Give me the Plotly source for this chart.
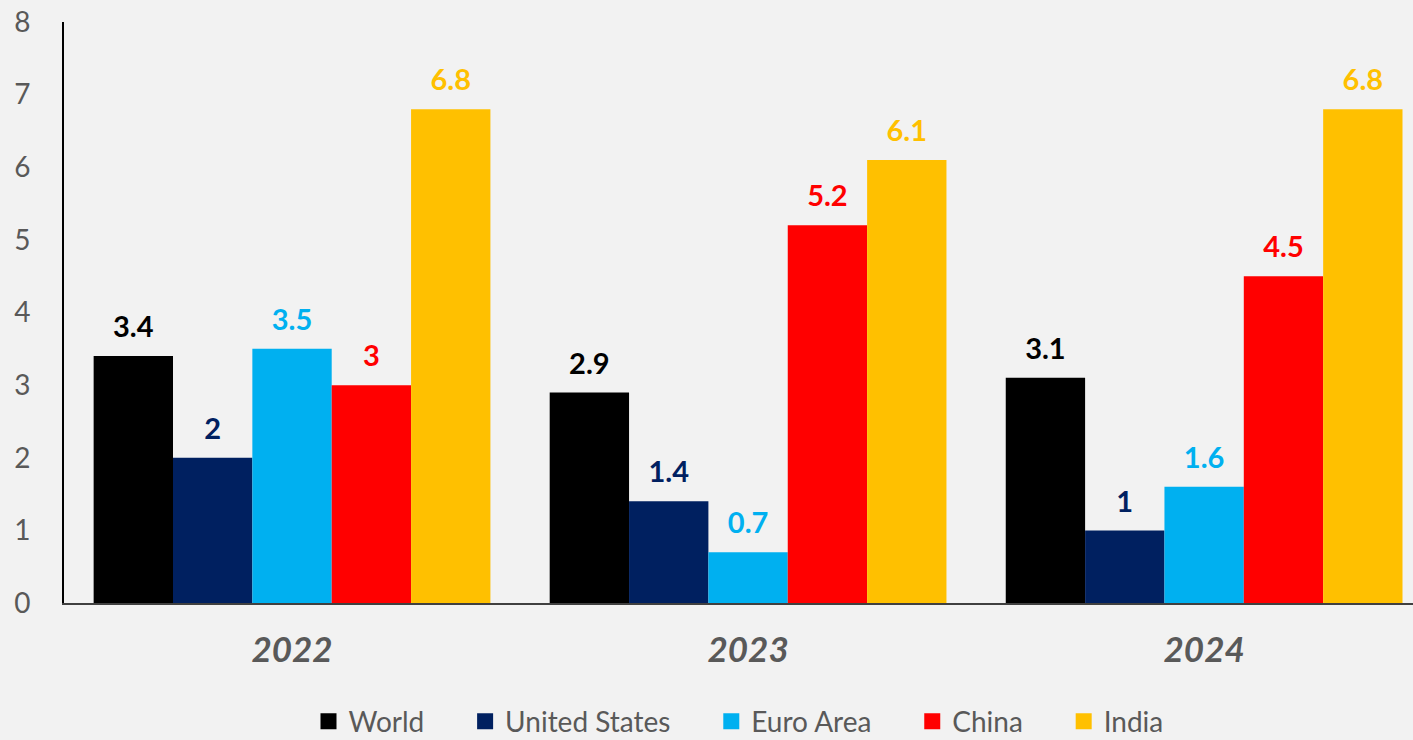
import plotly.graph_objects as go

# Growth forecasts by year and economy
years = ["2022", "2023", "2024"]
series_names = ["World", "United States", "Euro Area", "China", "India"]
world = [3.4, 2.9, 3.1]
united_states = [2, 1.4, 1]
euro_area = [3.5, 0.7, 1.6]
china = [3, 5.2, 4.5]
india = [6.8, 6.1, 6.8]
y_ticks = [0, 1, 2, 3, 4, 5, 6, 7, 8]

series_values = [world, united_states, euro_area, china, india]
colors = ["#000000", "#002060", "#00B0F0", "#FF0000", "#FFC000"]

FONT = "Lato"
GREY = "#595959"
BG = "#F2F2F2"
GAP = 0.13
LEGEND_PAD = "\u00a0" * 5  # extra room between legend entries

fig = go.Figure()

# Bars
for name, vals, col in zip(series_names, series_values, colors):
    fig.add_trace(go.Bar(
        x=years, y=vals, name=name, marker=dict(color=col, line=dict(width=0)),
        showlegend=False, hoverinfo="skip",
    ))

# Value labels above each bar (grouped scatter so they line up with the bars)
for name, vals, col in zip(series_names, series_values, colors):
    fig.add_trace(go.Scatter(
        x=years, y=vals, mode="markers+text",
        text=[f"{v:g}" for v in vals], textposition="top center",
        marker=dict(size=17, color="rgba(0,0,0,0)"),
        textfont=dict(family=FONT, size=29, color=col, weight="bold"),
        showlegend=False, hoverinfo="skip", cliponaxis=False,
    ))

# Legend entries (drawn on hidden overlay axes)
for i, (name, col) in enumerate(zip(series_names, colors)):
    label = name if i == len(series_names) - 1 else name + LEGEND_PAD
    fig.add_trace(go.Scatter(
        x=[None], y=[None], xaxis="x2", yaxis="y2", mode="markers", name=label,
        marker=dict(symbol="square", size=16, color=col),
        hoverinfo="skip",
    ))

fig.update_layout(
    width=1413, height=740,
    paper_bgcolor=BG, plot_bgcolor=BG,
    margin=dict(l=64, r=0, t=22, b=137, autoexpand=False),
    barmode="group", bargap=GAP, bargroupgap=0,
    scattermode="group", scattergap=GAP,
    font=dict(family=FONT, color=GREY),
    xaxis=dict(
        type="category", range=[-0.5, 2.458],
        showline=True, linecolor="#404040", linewidth=1.5,
        ticks="", showgrid=False, zeroline=False,
        tickfont=dict(family=FONT, size=35, color=GREY, weight="bold", style="italic"),
        ticklabelstandoff=15,
    ),
    yaxis=dict(
        range=[0, 8], tickvals=y_ticks, ticktext=[str(t) for t in y_ticks],
        showline=True, linecolor="#000000", linewidth=2,
        ticks="", showgrid=False, zeroline=False,
        tickfont=dict(family=FONT, size=28, color=GREY),
        ticklabelstandoff=26,
    ),
    xaxis2=dict(overlaying="x", visible=False),
    yaxis2=dict(overlaying="y", visible=False),
    legend=dict(
        orientation="h", x=0.5, xanchor="center", y=-0.204, yanchor="middle",
        font=dict(family=FONT, size=28, color=GREY), bgcolor="rgba(0,0,0,0)",
    ),
    showlegend=True,
)

fig.write_html("out.html")
